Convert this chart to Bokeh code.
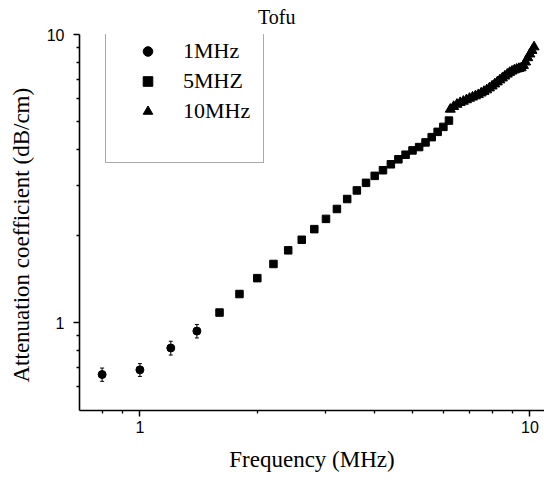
from bokeh.plotting import figure
from bokeh.models import (ColumnDataSource, Range1d, FixedTicker, Legend, LegendItem,
                          Whisker, TeeHead, Title, CustomJSTickFormatter)
from bokeh.embed import file_html
from bokeh.resources import INLINE

# ---- data ----
freq_1mhz = [0.8, 1.0, 1.2, 1.4]
att_1mhz = [0.660, 0.685, 0.816, 0.934]
err_1mhz = [0.035, 0.035, 0.045, 0.050]

freq_5mhz = [1.6, 1.8, 2.0, 2.2, 2.4, 2.6, 2.8, 3.0, 3.2, 3.4, 3.6, 3.8,
             4.0, 4.2, 4.4, 4.6, 4.8, 5.0, 5.2, 5.4, 5.6, 5.8, 6.0, 6.2]
att_5mhz = [1.083, 1.256, 1.426, 1.597, 1.781, 1.938, 2.110, 2.290, 2.479, 2.684,
            2.875, 3.055, 3.230, 3.379, 3.543, 3.687, 3.825, 3.960, 4.066, 4.221,
            4.402, 4.592, 4.778, 5.024]

freq_10mhz = [6.25, 6.375, 6.5, 6.625, 6.75, 6.875, 7.0, 7.125, 7.25, 7.375, 7.5,
              7.625, 7.75, 7.875, 8.0, 8.125, 8.25, 8.375, 8.5, 8.625, 8.75, 8.875,
              9.0, 9.125, 9.25, 9.375, 9.5, 9.625, 9.75, 9.875, 10.0, 10.125, 10.25]
att_10mhz = [5.50, 5.62, 5.72, 5.80, 5.86, 5.93, 6.00, 6.06, 6.12, 6.18, 6.26,
             6.34, 6.42, 6.52, 6.62, 6.73, 6.84, 6.95, 7.06, 7.17, 7.28, 7.38,
             7.46, 7.53, 7.58, 7.62, 7.66, 7.80, 8.02, 8.30, 8.55, 8.80, 9.05]

x_major = [1, 10]
x_minor = [0.8, 0.9, 2, 3, 4, 5, 6, 7, 8, 9]
y_major = [1, 10]
y_minor = [0.6, 0.7, 0.8, 0.9, 2, 3, 4, 5, 6, 7, 8, 9]

title_text = "Tofu"
x_label = "Frequency (MHz)"
y_label = "Attenuation coefficient (dB/cm)"
legend_labels = ["1MHz", "5MHZ", "10MHz"]

SERIF = "Liberation Serif"
SANS = "Liberation Sans"

p = figure(width=544, height=484, x_axis_type="log", y_axis_type="log",
           x_range=Range1d(0.70, 10.9), y_range=Range1d(0.495, 10),
           output_backend="svg", toolbar_location=None,
           min_border_left=79, min_border_right=0, min_border_top=34,
           min_border_bottom=74)

p.title = Title(text=title_text, align="right", offset=249,
                vertical_align="top",
                text_font=SERIF, text_font_size="20px", text_font_style="normal",
                text_color="black", standoff=10)

p.outline_line_color = None
p.xgrid.visible = False
p.ygrid.visible = False
p.background_fill_color = "white"
p.border_fill_color = "white"

fmt_code = "return String(tick);"
for ax, maj, mnr in ((p.xaxis[0], x_major, x_minor), (p.yaxis[0], y_major, y_minor)):
    ax.ticker = FixedTicker(ticks=maj, minor_ticks=mnr)
    ax.formatter = CustomJSTickFormatter(code=fmt_code)
    ax.axis_line_color = "black"
    ax.axis_line_width = 1.6
    ax.major_tick_line_color = "black"
    ax.major_tick_line_width = 1.5
    ax.minor_tick_line_color = "black"
    ax.minor_tick_line_width = 1.3
    ax.major_tick_in = 0
    ax.major_tick_out = 6
    ax.minor_tick_in = 0
    ax.minor_tick_out = 3
    ax.major_label_text_font = SANS
    ax.major_label_text_font_size = "16px"
    ax.major_label_text_color = "black"
    ax.axis_label_text_font = SERIF
    ax.axis_label_text_font_size = "23px"
    ax.axis_label_text_font_style = "normal"
    ax.axis_label_text_color = "black"

p.xaxis[0].axis_label = x_label
p.xaxis[0].major_label_standoff = 4
p.yaxis[0].major_label_standoff = 9
p.xaxis[0].axis_label_standoff = 11

# y label as a left-side title so it can be shifted along the axis
ytitle = Title(text=y_label, align="left", offset=28, vertical_align="top",
               text_font=SERIF, text_font_size="23px", text_font_style="normal",
               text_color="black", standoff=16)
p.add_layout(ytitle, "left")

src1 = ColumnDataSource(dict(x=freq_1mhz, y=att_1mhz,
                             lo=[a - e for a, e in zip(att_1mhz, err_1mhz)],
                             hi=[a + e for a, e in zip(att_1mhz, err_1mhz)]))
src5 = ColumnDataSource(dict(x=freq_5mhz, y=att_5mhz))
src10 = ColumnDataSource(dict(x=freq_10mhz, y=att_10mhz))

wh = Whisker(source=src1, base="x", lower="lo", upper="hi", line_color="black",
             line_width=1,
             lower_head=TeeHead(size=4, line_color="black", line_width=1),
             upper_head=TeeHead(size=4, line_color="black", line_width=1))
p.add_layout(wh)

r1 = p.scatter("x", "y", source=src1, marker="circle", size=8,
               fill_color="black", line_color="black")
r5 = p.scatter("x", "y", source=src5, marker="square", size=7.5,
               fill_color="black", line_color="black")
r10 = p.scatter("x", "y", source=src10, marker="triangle", size=10,
                fill_color="black", line_color="black")
r_blank = p.scatter(x=[], y=[], marker="circle", size=1,
                    fill_alpha=0, line_alpha=0)

legend = Legend(items=[LegendItem(label=legend_labels[0], renderers=[r1]),
                       LegendItem(label=legend_labels[1], renderers=[r5]),
                       LegendItem(label=legend_labels[2], renderers=[r10]),
                       LegendItem(label=" ", renderers=[r_blank])],
                location=(26, 247), orientation="vertical",
                label_text_font=SERIF, label_text_font_size="22px",
                label_text_color="black",
                glyph_width=63, glyph_height=24, label_height=24,
                label_width=70, label_standoff=4, spacing=4, padding=10,
                margin=0,
                border_line_color="#555555", border_line_width=1,
                background_fill_color="white", background_fill_alpha=1)
p.add_layout(legend, "center")

open("out.html", "w").write(file_html(p, INLINE))
